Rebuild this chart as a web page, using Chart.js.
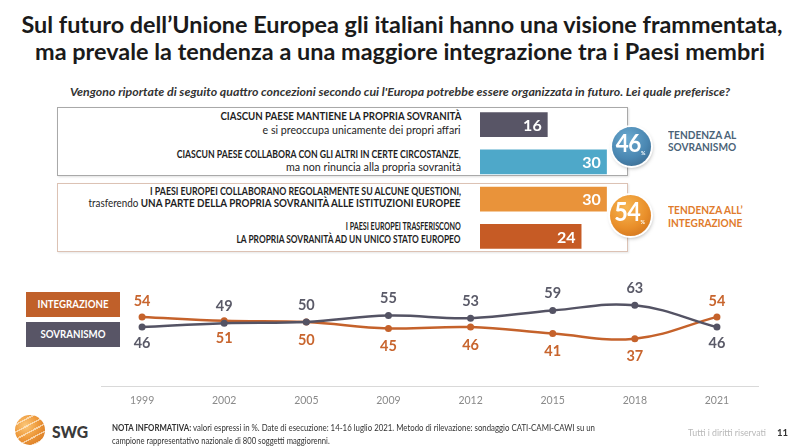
<!DOCTYPE html>
<html><head><meta charset="utf-8">
<script src="https://cdn.jsdelivr.net/npm/chart.js@4.4.1/dist/chart.umd.min.js"></script>
<style>
html,body{margin:0;padding:0;background:#fff;}
#page{position:relative;width:800px;height:447px;overflow:hidden;font-family:Lato,'Open Sans',sans-serif;color:#222;}
.t{position:absolute;white-space:nowrap;}
.box{position:absolute;box-sizing:border-box;background:#fff;}
.circle{position:absolute;border-radius:50%;color:#fff;font-weight:700;text-align:center;z-index:3;}
canvas{position:absolute;}
</style></head><body><div id="page">

<span class="t" id="title1" data-w="761" data-c="402" style="top:13.5px;font-size:22px;line-height:22px;font-weight:700;color:#1a1a1a;">Sul futuro dell’Unione Europea gli italiani hanno una visione frammentata,</span>
<span class="t" id="title2" data-w="730" data-c="400" style="top:40.5px;font-size:22px;line-height:22px;font-weight:700;color:#1a1a1a;">ma prevale la tendenza a una maggiore integrazione tra i Paesi membri</span>
<span class="t" data-w="660" data-c="400" style="top:85.5px;font-size:11px;line-height:11px;font-weight:700;font-style:italic;color:#333;">Vengono riportate di seguito quattro concezioni secondo cui l'Europa potrebbe essere organizzata in futuro. Lei quale preferisce?</span>

<div class="box" style="left:57px;top:107px;width:571px;height:69px;border:1px solid #a9a9a9;box-shadow:1px 1px 2px rgba(0,0,0,0.12);"></div>
<div class="box" style="left:57px;top:183px;width:571px;height:69px;border:1px solid #dcc2b4;box-shadow:1px 1px 2px rgba(0,0,0,0.10);"></div>
<div id="barLabels"></div>

<canvas id="bars" width="148" height="149" style="left:480px;top:106px;"></canvas>

<div class="circle" id="c46" style="left:611.5px;top:126.5px;width:39px;height:39px;background:radial-gradient(circle at 40% 30%,#6aa9cf 0%,#4a87b2 55%,#365f82 100%);box-shadow:0 0 0 2px #fff,1px 2px 4px rgba(0,0,0,0.35);"></div>
<div class="circle" id="c54" style="left:609.5px;top:194.5px;width:41px;height:41px;background:radial-gradient(circle at 40% 30%,#f7b653 0%,#e98f2a 55%,#c7691a 100%);box-shadow:0 0 0 2px #fff,1px 2px 4px rgba(0,0,0,0.35);"></div>

<span class="t" data-s="0.92" data-l="668" style="top:129px;font-size:11px;line-height:11px;font-weight:700;color:#4b6378;">TENDENZA AL</span>
<span class="t" data-s="0.92" data-l="668" style="top:141px;font-size:11px;line-height:11px;font-weight:700;color:#4b6378;">SOVRANISMO</span>
<span class="t" data-s="0.92" data-l="668" style="top:204px;font-size:11px;line-height:11px;font-weight:700;color:#e07b2c;">TENDENZA ALL’</span>
<span class="t" data-s="0.92" data-l="668" style="top:216.5px;font-size:11px;line-height:11px;font-weight:700;color:#e07b2c;">INTEGRAZIONE</span>

<div class="box" style="left:26px;top:292px;width:94px;height:25px;background:#c0602a;"></div>
<div class="box" style="left:26px;top:321.5px;width:94px;height:25px;background:#585566;"></div>
<span class="t" data-s="0.92" data-c="73" style="top:299px;font-size:10.5px;line-height:10.5px;font-weight:700;color:#fff;">INTEGRAZIONE</span>
<span class="t" data-s="0.92" data-c="73" style="top:328.5px;font-size:10.5px;line-height:10.5px;font-weight:700;color:#fff;">SOVRANISMO</span>

<canvas id="lines" width="665" height="162" style="left:97px;top:254px;"></canvas>

<div style="position:absolute;left:15px;top:415px;width:30px;height:30px;border-radius:50%;background:repeating-linear-gradient(-28deg,rgba(255,255,255,0) 0 5px,rgba(255,240,220,0.65) 5px 6.5px),radial-gradient(circle at 35% 35%,#fbc779,#ee9a3c 45%,#d2701c 100%);"></div>
<span class="t" data-s="0.95" data-l="52" style="top:423.5px;font-size:16.5px;line-height:16.5px;font-weight:900;color:#3a3a3a;">SWG</span>
<span class="t" data-w="483" data-l="112" style="top:423.5px;font-size:8.5px;line-height:8.5px;color:#333;"><b>NOTA INFORMATIVA:</b> valori espressi in %. Date di esecuzione: 14-16 luglio 2021. Metodo di rilevazione: sondaggio CATI-CAMI-CAWI su un</span>
<span class="t" data-s="0.9" data-l="112" style="top:436.5px;font-size:8.5px;line-height:8.5px;color:#333;">campione rappresentativo nazionale di 800 soggetti maggiorenni.</span>
<span class="t" data-w="78" data-l="688" style="top:428.5px;font-size:8.5px;line-height:8.5px;color:#b8b8b8;">Tutti i diritti riservati</span>
<span class="t" data-s="0.95" data-l="777" style="top:427px;font-size:10px;line-height:10px;font-weight:700;color:#333;">11</span>

</div>
<script>
// ---------- DATA ----------
const barLabelLines = [
  [[['CIASCUN PAESE MANTIENE LA PROPRIA SOVRANITÀ', 1]], [['e si preoccupa unicamente dei propri affari', 0]]],
  [[['CIASCUN PAESE COLLABORA CON GLI ALTRI IN CERTE CIRCOSTANZE', 1], [',', 0]], [['ma non rinuncia alla propria sovranità', 0]]],
  [[['I PAESI EUROPEI COLLABORANO REGOLARMENTE SU ALCUNE QUESTIONI,', 1]], [['trasferendo ', 0], ['UNA PARTE DELLA PROPRIA SOVRANITÀ ALLE ISTITUZIONI EUROPEE', 1]]],
  [[['I PAESI EUROPEI TRASFERISCONO', 1]], [['LA PROPRIA SOVRANITÀ AD UN UNICO STATO EUROPEO', 1]]]
];
const barCategories = ['Sovranità nazionale', 'Collaborazione occasionale', 'Cessione parziale', 'Stato unico europeo'];
const barValues = [16, 30, 30, 24];
const years = ['1999', '2002', '2005', '2009', '2012', '2015', '2018', '2021'];
const integrazione = [54, 51, 50, 45, 46, 41, 37, 54];
const sovranismo = [46, 49, 50, 55, 53, 59, 63, 46];

// ---------- STYLE ----------
const barColors = ['#585566', '#4ea8c9', '#e9933a', '#c65b25'];
const C_INT = '#c5622b', C_SOV = '#545364';
const C_INT_TXT = '#c8652e', C_SOV_TXT = '#5a5a68';
const labelTops = [[111.2, 125.2], [148.7, 162.2], [185.7, 198.2], [221.2, 233.7]];
const labelWidths = [[241, 198], [284, 175], [311, 372], [115, 224]];
Chart.defaults.font.family = 'Lato';

// bar labels (HTML)
const bl = document.getElementById('barLabels');
barLabelLines.forEach((lines, i) => {
  lines.forEach((segs, j) => {
    const s = document.createElement('span');
    s.className = 't';
    s.dataset.w = labelWidths[i][j];
    s.dataset.r = 461;
    s.style.cssText = `top:${labelTops[i][j]}px;font-size:10.5px;line-height:10.5px;color:#1e1e1e;`;
    s.innerHTML = segs.map(([t, b]) => b ? `<b>${t}</b>` : t).join('');
    bl.appendChild(s);
  });
});

// circles: totals from bar values
const sovTot = barValues[0] + barValues[1];
const intTot = barValues[2] + barValues[3];
function circleText(el, v, fs) {
  el.innerHTML = `<span style="position:absolute;left:0;right:0;top:50%;transform:translate(-1px,-50%) scaleX(0.9);font-size:${fs}px;line-height:${fs}px;letter-spacing:-0.5px;">${v}<span style="font-size:6px;position:relative;top:3px;letter-spacing:0;">%</span></span>`;
}
circleText(document.getElementById('c46'), sovTot, 25);
circleText(document.getElementById('c54'), intTot, 26);

// fit text widths
document.querySelectorAll('.t').forEach(el => {
  const w = el.getBoundingClientRect().width;
  let s = el.dataset.w ? (+el.dataset.w / w) : (el.dataset.s ? +el.dataset.s : 1);
  if (el.dataset.c !== undefined) {
    el.style.left = el.dataset.c + 'px';
    el.style.transformOrigin = '0 50%';
    el.style.transform = `scaleX(${s}) translateX(-50%)`;
  } else if (el.dataset.r !== undefined) {
    el.style.right = (800 - +el.dataset.r) + 'px';
    el.style.transformOrigin = '100% 50%';
    el.style.transform = `scaleX(${s})`;
  } else {
    el.style.left = (el.dataset.l || 0) + 'px';
    el.style.transformOrigin = '0 50%';
    el.style.transform = `scaleX(${s})`;
  }
});

// ---------- BAR CHART ----------
const barValuePlugin = {
  id: 'barValues',
  afterDatasetsDraw(chart) {
    const ctx = chart.ctx;
    const meta = chart.getDatasetMeta(0);
    ctx.save();
    ctx.font = 'bold 16px Lato';
    ctx.fillStyle = '#fff';
    ctx.textAlign = 'right';
    ctx.textBaseline = 'middle';
    meta.data.forEach((bar, i) => ctx.fillText(String(barValues[i]), bar.x - 6, bar.y + 1));
    ctx.restore();
  }
};
new Chart(document.getElementById('bars'), {
  type: 'bar',
  data: { labels: barCategories, datasets: [{ data: barValues, backgroundColor: barColors, borderWidth: 0, barPercentage: 0.66, categoryPercentage: 1 }] },
  options: {
    indexAxis: 'y', responsive: false, animation: false,
    layout: { padding: 0 },
    plugins: { legend: { display: false }, tooltip: { enabled: false } },
    scales: { x: { display: false, min: 0, max: 35 }, y: { display: false, offset: true } }
  },
  plugins: [barValuePlugin]
});

// ---------- LINE CHART ----------
const lineLabelPlugin = {
  id: 'lineLabels',
  afterDatasetsDraw(chart) {
    const ctx = chart.ctx;
    const ms = chart.getDatasetMeta(0), mi = chart.getDatasetMeta(1);
    ctx.save();
    ctx.font = 'bold 14.5px Lato';
    ctx.textAlign = 'center';
    ctx.textBaseline = 'middle';
    integrazione.forEach((v, i) => {
      const s = sovranismo[i];
      const intAbove = v - s >= 5;
      const pi = mi.data[i], ps = ms.data[i];
      ctx.fillStyle = C_INT_TXT;
      ctx.fillText(String(v), pi.x, pi.y + (intAbove ? -16 : 18));
      ctx.fillStyle = C_SOV_TXT;
      ctx.fillText(String(s), ps.x, ps.y + (intAbove ? 16 : -17));
    });
    ctx.restore();
  }
};
new Chart(document.getElementById('lines'), {
  type: 'line',
  data: {
    labels: years,
    datasets: [
      { label: 'SOVRANISMO', data: sovranismo, borderColor: C_SOV, backgroundColor: C_SOV, pointBackgroundColor: C_SOV, pointBorderColor: C_SOV },
      { label: 'INTEGRAZIONE', data: integrazione, borderColor: C_INT, backgroundColor: C_INT, pointBackgroundColor: C_INT, pointBorderColor: C_INT }
    ]
  },
  options: {
    responsive: false, animation: false,
    layout: { padding: 0 },
    plugins: { legend: { display: false }, tooltip: { enabled: false } },
    elements: { line: { tension: 0.4, borderWidth: 2.5, fill: false }, point: { radius: 3.5, borderWidth: 0 } },
    scales: {
      x: {
        offset: true,
        grid: { display: false, drawTicks: false },
        border: { display: true, color: '#d9d9d9', width: 1 },
        ticks: { color: '#8a8a8a', font: { size: 10.5 }, padding: 8 },
        afterFit(s) { s.height = 30; }
      },
      y: { display: false, min: 0, max: 100 }
    }
  },
  plugins: [lineLabelPlugin]
});
</script>
</body></html>
